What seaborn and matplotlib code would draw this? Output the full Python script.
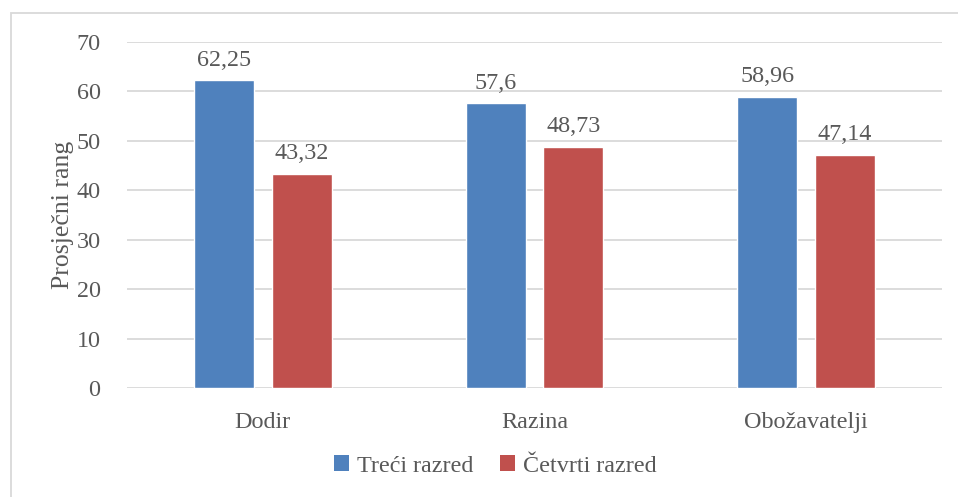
import matplotlib
matplotlib.use("Agg")
import matplotlib.pyplot as plt
import seaborn as sns
import pandas as pd
from matplotlib.patches import Rectangle, Patch

categories = ["Dodir", "Razina", "Obožavatelji"]
series_names = ["Treći razred", "Četvrti razred"]
treci = [62.25, 57.6, 58.96]
cetvrti = [43.32, 48.73, 47.14]
value_labels_treci = ["62,25", "57,6", "58,96"]
value_labels_cetvrti = ["43,32", "48,73", "47,14"]
yticks = [0, 10, 20, 30, 40, 50, 60, 70]
colors = ["#4F81BD", "#C0504D"]
text_color = "#595959"
grid_color = "#D9D9D9"

df = pd.DataFrame({
    "kategorija": categories * 2,
    "serija": [series_names[0]] * 3 + [series_names[1]] * 3,
    "vrijednost": treci + cetvrti,
})

sns.set_theme(style="white")
plt.rcParams["font.family"] = ["Liberation Serif", "DejaVu Serif"]

FS = 17.4
W, H = 958, 497
fig = plt.figure(figsize=(W / 100, H / 100), dpi=100)
ax = fig.add_axes([127 / W, 1 - 388 / H, (942 - 127) / W, (388 - 42) / H])

sns.barplot(data=df, x="kategorija", y="vrijednost", hue="serija",
            hue_order=series_names, order=categories, palette=colors,
            width=0.572, gap=0.227, saturation=1, ax=ax, legend=False,
            errorbar=None)

ax.set_ylim(0, 70)
ax.set_xlim(-0.5, 2.5)
ax.set_yticks(yticks)
ax.set_yticklabels([str(t) for t in yticks])
for t in yticks:
    ax.axhline(t, color=grid_color, lw=1.3, zorder=0)
ax.set_axisbelow(True)
for s in ax.spines.values():
    s.set_visible(False)
ax.tick_params(axis="both", length=0, colors=text_color, labelsize=FS)
ax.tick_params(axis="y", pad=19)
ax.tick_params(axis="x", pad=17)
ax.set_xlabel("")
ax.set_ylabel("Prosječni rang", fontsize=18.5, color=text_color, labelpad=2)

labels_all = [value_labels_treci, value_labels_cetvrti]
for cont, labs in zip(ax.containers, labels_all):
    ax.bar_label(cont, labels=labs, padding=7, fontsize=FS, color=text_color)

handles = [Patch(facecolor=c, edgecolor="none") for c in colors]
fig.legend(handles, series_names, loc="center", bbox_to_anchor=(495 / W, 1 - 466 / H),
           ncol=2, frameon=False, fontsize=FS, labelcolor=text_color,
           handlelength=0.65, handleheight=0.65, handletextpad=0.3, columnspacing=1.1)

fig.patches.append(Rectangle((10.5 / W, -0.1), 2, 1.1 - 12.5 / H, transform=fig.transFigure,
                             fill=False, edgecolor=grid_color, lw=1.3))

fig.savefig("out.png", dpi=100)
